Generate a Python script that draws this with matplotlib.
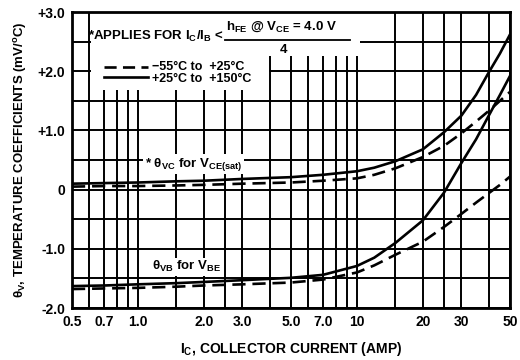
import numpy as np
import matplotlib
matplotlib.use('Agg')
import matplotlib.pyplot as plt
from matplotlib.patches import Rectangle
from matplotlib import font_manager

# pick a narrow bold face if installed
names = {f.name for f in font_manager.fontManager.ttflist}
face = 'Liberation Sans Narrow' if 'Liberation Sans Narrow' in names else 'Liberation Sans'
plt.rcParams['font.family'] = [face, 'DejaVu Sans']
plt.rcParams['font.weight'] = 'bold'
plt.rcParams['axes.labelweight'] = 'bold'
plt.rcParams['mathtext.fontset'] = 'custom'
plt.rcParams['mathtext.rm'] = face + ':bold'
plt.rcParams['mathtext.it'] = face + ':italic:bold'
plt.rcParams['mathtext.bf'] = face + ':bold'
plt.rcParams['mathtext.default'] = 'regular'

# collector current (A)
ic = [0.5, 0.7, 1.0, 1.5, 2.0, 3.0, 5.0, 7.0, 10, 12, 15, 20, 25, 30, 35, 40, 45, 50]
# theta_VC for VCE(sat)
vc_hot = [0.10, 0.11, 0.12, 0.14, 0.15, 0.18, 0.21, 0.25, 0.31, 0.37, 0.48, 0.68, 0.97, 1.25, 1.60, 1.98, 2.30, 2.62]
vc_cold = [0.05, 0.06, 0.06, 0.07, 0.08, 0.10, 0.12, 0.15, 0.19, 0.25, 0.36, 0.55, 0.74, 0.95, 1.15, 1.33, 1.50, 1.65]
# theta_VB for VBE
vb_hot = [-1.63, -1.62, -1.60, -1.58, -1.56, -1.53, -1.49, -1.44, -1.29, -1.15, -0.90, -0.52, -0.05, 0.45, 0.85, 1.25, 1.60, 1.92]
vb_cold = [-1.68, -1.67, -1.66, -1.64, -1.62, -1.60, -1.57, -1.52, -1.40, -1.28, -1.10, -0.88, -0.63, -0.41, -0.22, -0.06, 0.08, 0.22]

grid_x = [0.5, 0.6, 0.7, 0.8, 0.9, 1, 1.5, 2, 2.5, 3, 4, 5, 6, 7, 8, 9, 10, 15, 20, 25, 30, 40, 50]
x_labels = {0.5: '0.5', 0.7: '0.7', 1: '1.0', 2: '2.0', 3: '3.0', 5: '5.0', 7: '7.0',
            10: '10', 20: '20', 30: '30', 50: '50'}
grid_y = [-2.0, -1.5, -1.0, -0.5, 0, 0.5, 1.0, 1.5, 2.0, 2.5, 3.0]
y_labels = {-2.0: '-2.0', -1.0: '-1.0', 0: '0', 1.0: '+1.0', 2.0: '+2.0', 3.0: '+3.0'}

fig = plt.figure(figsize=(5.2, 3.6), dpi=100)
ax = fig.add_axes([72 / 520, 52 / 360, 438 / 520, 296 / 360])
ax.set_xscale('log')
ax.set_xlim(0.5, 50)
ax.set_ylim(-2.0, 3.0)

ax.set_xticks(grid_x)
ax.set_xticklabels([x_labels.get(v, '') for v in grid_x])
ax.xaxis.set_minor_locator(matplotlib.ticker.NullLocator())
ax.set_yticks(grid_y)
ax.set_yticklabels([y_labels.get(v, '') for v in grid_y])
ax.tick_params(length=0, labelsize=10, pad=5)
ax.set_axisbelow(True)
ax.grid(True, color='black', lw=1.4)
for s in ax.spines.values():
    s.set_linewidth(2)

# white areas behind the legend text
ax.add_patch(Rectangle((0.61, 2.25), 10.3 - 0.61, 0.75, facecolor='white', edgecolor='none', zorder=1))
ax.add_patch(Rectangle((0.61, 1.68), 3.95 - 0.61, 0.6, facecolor='white', edgecolor='none', zorder=1))

dash = (5, 2.6)
ax.plot(ic, vc_hot, color='black', lw=1.9, zorder=3)
ax.plot(ic, vc_cold, color='black', lw=1.9, dashes=dash, zorder=3)
ax.plot(ic, vb_hot, color='black', lw=1.9, zorder=3)
ax.plot(ic, vb_cold, color='black', lw=1.9, dashes=dash, zorder=3)

box = dict(facecolor='white', edgecolor='none', pad=1)
ax.text(0.166, 0.486, r'* $\theta_{VC}$ for V$_{CE(sat)}$', transform=ax.transAxes,
        fontsize=9.5, va='center', ha='left', bbox=box, zorder=4)
ax.text(0.183, 0.139, r'$\theta_{VB}$ for V$_{BE}$', transform=ax.transAxes,
        fontsize=9.5, va='center', ha='left', bbox=box, zorder=4)

# legend block
ax.text(0.037, 0.919, r'*APPLIES FOR I$_C$/I$_B$ <', transform=ax.transAxes,
        fontsize=9.5, va='center', ha='left')
ax.text(0.352, 0.949, r'h$_{FE}$ @ V$_{CE}$ = 4.0 V', transform=ax.transAxes,
        fontsize=9.5, va='center', ha='left')
ax.plot([0.349, 0.635], [0.905, 0.905], transform=ax.transAxes, color='black', lw=1.3, clip_on=False)
ax.text(0.482, 0.872, '4', transform=ax.transAxes, fontsize=9.5, va='center', ha='center')
ax.plot([0.073, 0.174], [0.814, 0.814], transform=ax.transAxes, color='black', lw=1.9, dashes=(4.6, 2.4))
ax.plot([0.073, 0.174], [0.780, 0.780], transform=ax.transAxes, color='black', lw=1.9)
ax.text(0.183, 0.814, '\u221255\u00b0C to  +25\u00b0C', transform=ax.transAxes,
        fontsize=9, va='center', ha='left')
ax.text(0.183, 0.772, '+25\u00b0C to  +150\u00b0C', transform=ax.transAxes,
        fontsize=9, va='center', ha='left')

ax.set_xlabel(r'I$_C$, COLLECTOR CURRENT (AMP)', fontsize=10, labelpad=8)
ax.set_ylabel(r'$\theta_V$, TEMPERATURE COEFFICIENTS (mV/$^o$C)', fontsize=9.5, labelpad=6)

fig.savefig('out.png', dpi=100)
